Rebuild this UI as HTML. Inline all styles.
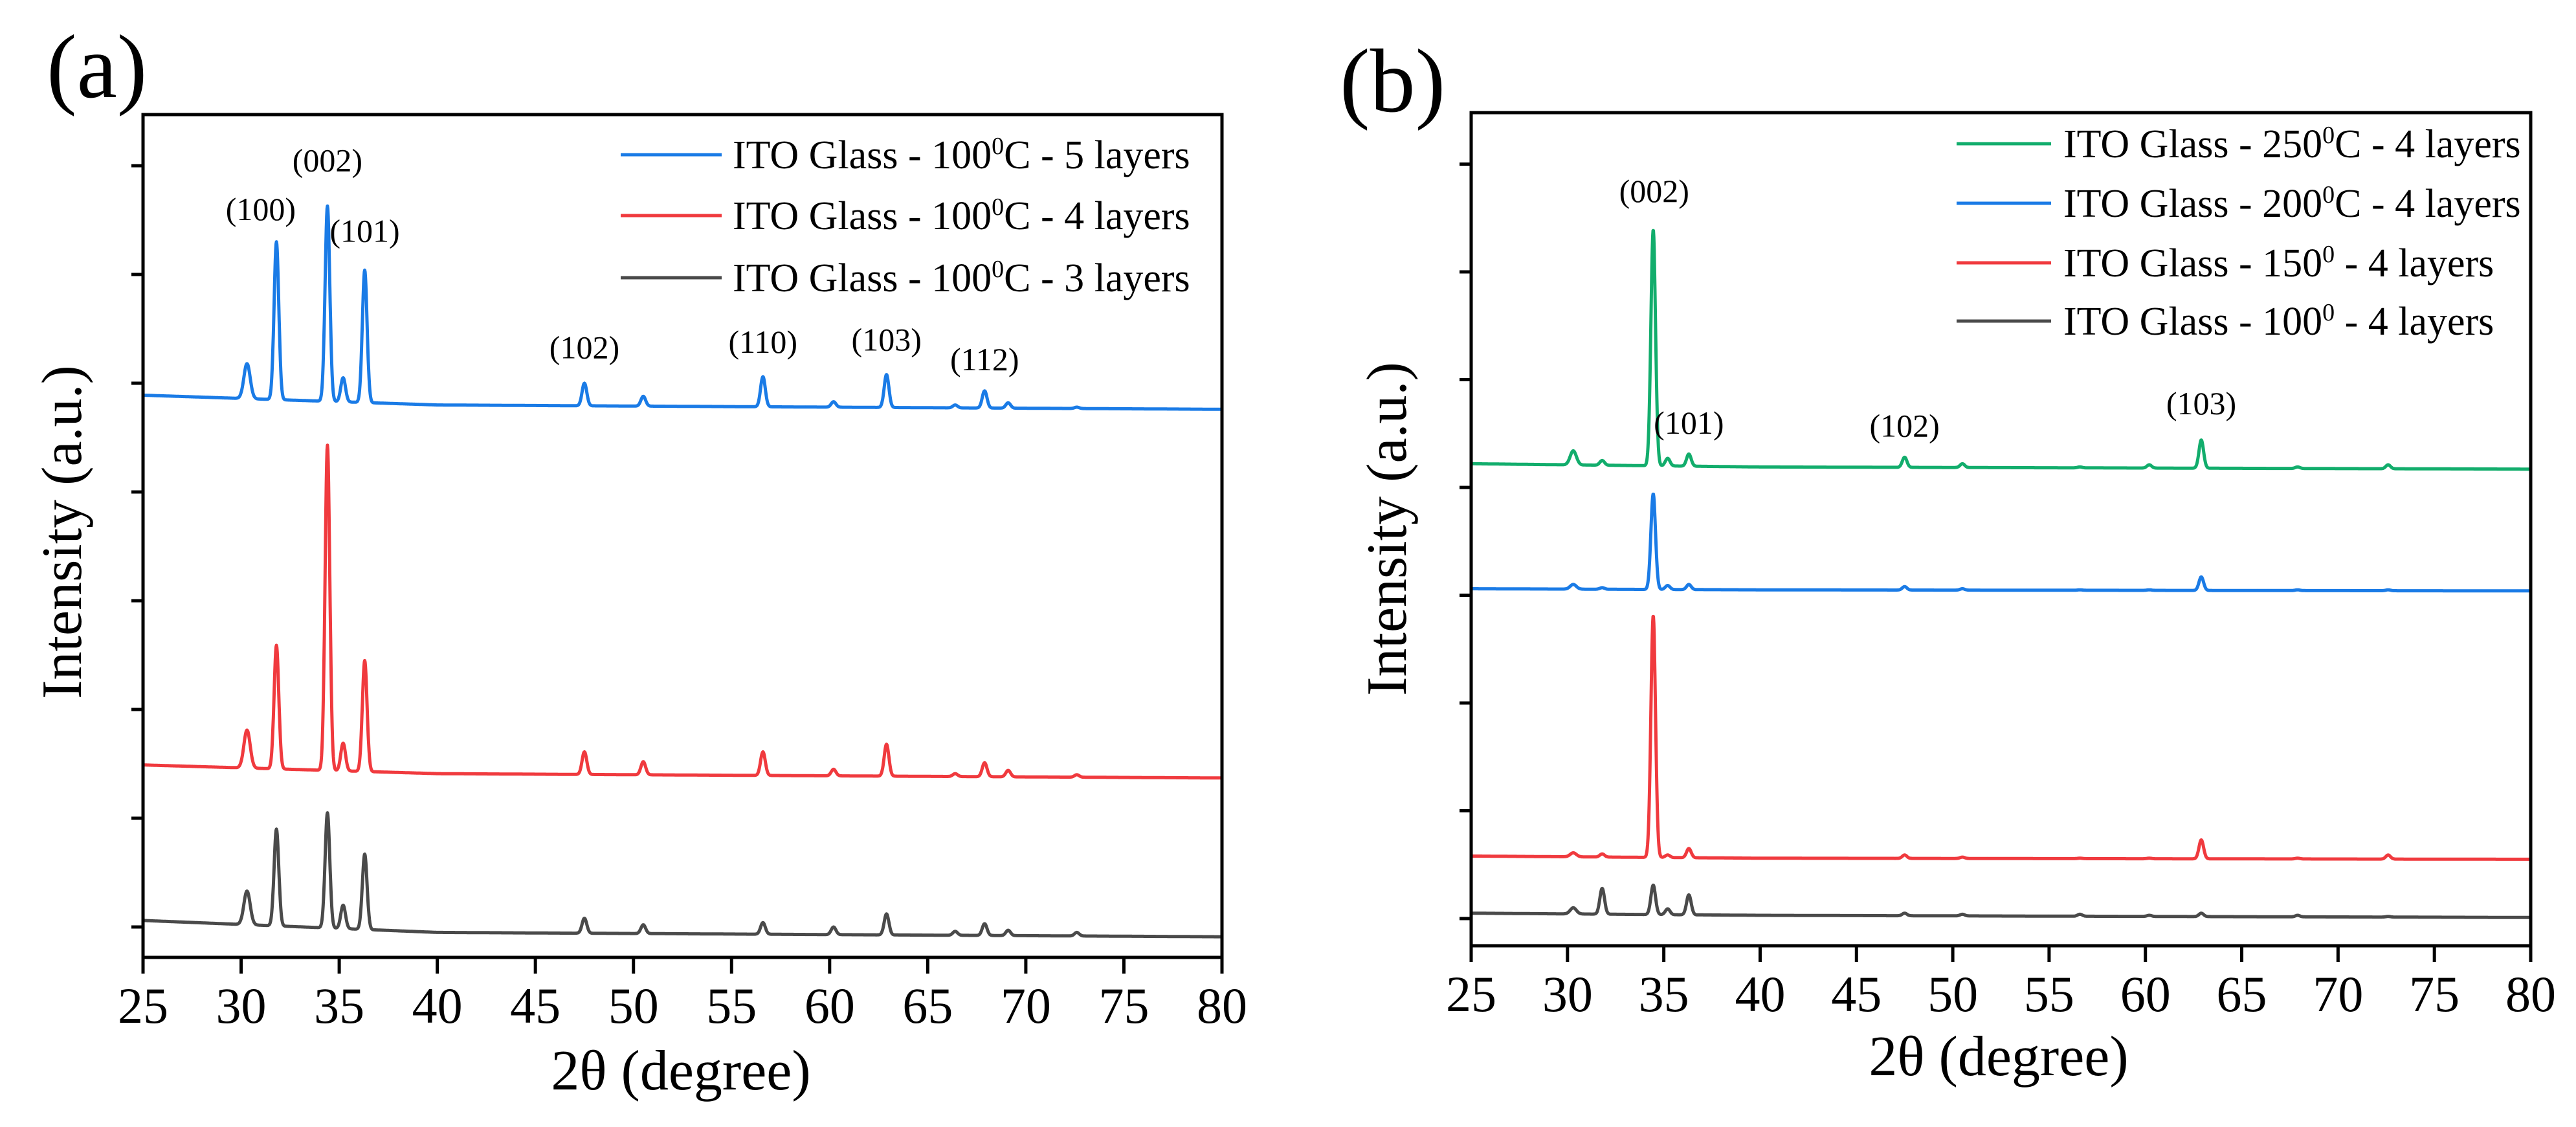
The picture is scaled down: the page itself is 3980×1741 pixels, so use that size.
<!DOCTYPE html>
<html><head><meta charset="utf-8"><style>
html,body{margin:0;padding:0;background:#fff;}
svg{display:block;}
svg text{font-family:"Liberation Serif","DejaVu Serif",serif;}
</style></head><body>
<svg id="fig" width="3980" height="1741" viewBox="0 0 3980 1741" font-family="Liberation Serif, serif"></svg>
<script>
// ---- Panel (a) data ----
const peakPosA = [30.3, 31.8, 34.4, 35.2, 36.3, 47.5, 50.5, 56.6, 60.2, 62.9, 66.4, 67.9, 69.1, 72.6];
const blueBaseA = [4.89, 4.80, 4.76];      // baseline at 25, 40, 80
const blueHeightsA = [5.18, 6.30, 6.63, 5.05, 6.04, 5.00, 4.88, 5.06, 4.83, 5.08, 4.80, 4.93, 4.82, 4.78];
const redBaseA = [1.49, 1.41, 1.37];
const redHeightsA = [1.81, 2.59, 4.43, 1.69, 2.45, 1.61, 1.52, 1.61, 1.45, 1.68, 1.41, 1.51, 1.44, 1.40];
const grayBaseA = [0.06, -0.05, -0.09];
const grayHeightsA = [0.33, 0.90, 1.05, 0.20, 0.67, 0.08, 0.02, 0.04, 0.00, 0.12, -0.04, 0.03, -0.03, -0.05];
const seriesNamesA = [["ITO Glass - 100", "C - 5 layers"], ["ITO Glass - 100", "C - 4 layers"], ["ITO Glass - 100", "C - 3 layers"]];
const hklA = ["(100)", "(002)", "(101)", "(102)", "(110)", "(103)", "(112)"];
const hklPosA = [31.0, 34.4, 36.3, 47.5, 56.6, 62.9, 67.9];
const hklYA = [6.5, 6.95, 6.3, 5.23, 5.28, 5.3, 5.12];

// ---- Panel (b) data ----
const peakPosB = [30.3, 31.8, 34.45, 35.2, 36.3, 47.5, 50.5, 56.6, 60.2, 62.9, 67.9, 72.6];
const greenBaseB = [4.22, 4.19, 4.17];
const greenHeightsB = [4.34, 4.25, 6.39, 4.27, 4.31, 4.28, 4.22, 4.19, 4.21, 4.44, 4.19, 4.21];
const blueBaseB = [3.06, 3.05, 3.04];
const blueHeightsB = [3.10, 3.07, 3.94, 3.09, 3.10, 3.08, 3.06, 3.05, 3.05, 3.17, 3.05, 3.05];
const redBaseB = [0.58, 0.56, 0.55];
const redHeightsB = [0.61, 0.60, 2.81, 0.59, 0.65, 0.59, 0.57, 0.56, 0.56, 0.73, 0.56, 0.59];
const grayBaseB = [0.05, 0.03, 0.01];
const grayHeightsB = [0.10, 0.28, 0.31, 0.09, 0.22, 0.05, 0.04, 0.04, 0.03, 0.05, 0.03, 0.02];
const seriesNamesB = [["ITO Glass - 250", "C - 4 layers"], ["ITO Glass - 200", "C - 4 layers"], ["ITO Glass - 150", " - 4 layers"], ["ITO Glass - 100", " - 4 layers"]];
const hklB = ["(002)", "(101)", "(102)", "(103)"];
const hklPosB = [34.5, 36.3, 47.5, 62.9];
const hklYB = [6.65, 4.5, 4.47, 4.68];
const xTicks = [25, 30, 35, 40, 45, 50, 55, 60, 65, 70, 75, 80];

const NS = "http://www.w3.org/2000/svg";
const svg = document.getElementById('fig');
const FF = '"Liberation Serif", serif';
function mk(tag, attrs, parent) {
  const e = document.createElementNS(NS, tag);
  for (const k in attrs) e.setAttribute(k, attrs[k]);
  if (tag === 'text') e.setAttribute('font-family', FF);
  (parent || svg).appendChild(e);
  return e;
}

function spectrum(x, pos, heights, base) {
  const b = x <= 40 ? base[0] + (base[1] - base[0]) * (x - 25) / 15 : base[1] + (base[2] - base[1]) * (x - 40) / 40;
  let y = b;
  for (let i = 0; i < pos.length; i++) {
    const amp = heights[i] - b;
    const w = pos[i] === 30.3 ? 0.16 : 0.12;
    y += amp * Math.exp(-0.5 * Math.pow((x - pos[i]) / w, 2));
  }
  return y;
}

function panel(cfg) {
  const g = mk('g', {});
  
  
  const X = v => cfg.left + (v - 25) / 55 * (cfg.right - cfg.left);
  const Y = u => cfg.y0 - u * cfg.unit;
  cfg.series.forEach((s) => {
    let d = '';
    for (let x = 25; x <= 80.0001; x += 0.02) {
      d += (d ? 'L' : 'M') + X(x).toFixed(1) + ' ' + Y(spectrum(x, cfg.pos, s.h, s.b)).toFixed(1);
    }
    const p = mk('path', {d: d, fill: 'none', stroke: s.c, 'stroke-width': 5, 'stroke-linejoin': 'round'}, g);
    
    
  });
  const fr = mk('rect', {x: cfg.left, y: cfg.top, width: cfg.right - cfg.left, height: cfg.bottom - cfg.top, fill: 'none', stroke: '#000', 'stroke-width': 5}, g);
  
  
  for (let i = 0; i < 8; i++) {
    const t = mk('line', {x1: cfg.left - 18, x2: cfg.left, y1: Y(i), y2: Y(i), stroke: '#000', 'stroke-width': 5}, g);
    
    
  }
  xTicks.forEach(v => {
    const t = mk('line', {x1: X(v), x2: X(v), y1: cfg.bottom, y2: cfg.bottom + 25, stroke: '#000', 'stroke-width': 5}, g);
    
    
    const l = mk('text', {x: X(v), y: cfg.tickY, 'font-size': 78, 'text-anchor': 'middle'}, g);
    l.textContent = v;
    
    
  });
  const xt = mk('text', {x: cfg.xtX, y: cfg.xtY, 'font-size': 88, 'text-anchor': 'middle'}, g);
  xt.textContent = '2θ (degree)';
  
  
  const yt = mk('text', {x: 0, y: 0, 'font-size': 88, 'text-anchor': 'middle', transform: `translate(${cfg.ytX},${cfg.ytY}) rotate(-90)`}, g);
  yt.textContent = 'Intensity (a.u.)';
  
  
  const pl = mk('text', {x: cfg.plX, y: cfg.plY, 'font-size': 140}, g);
  pl.textContent = cfg.label;
  
  
  cfg.hkl.forEach((h, i) => {
    const t = mk('text', {x: X(cfg.hklPos[i]), y: Y(cfg.hklY[i]), 'font-size': 50, 'text-anchor': 'middle'}, g);
    t.textContent = h;
    
    
  });
  cfg.series.forEach((s, i) => {
    const yy = cfg.legY[i];
    const ln = mk('line', {x1: cfg.legX1, x2: cfg.legX2, y1: yy, y2: yy, stroke: s.c, 'stroke-width': 5}, g);
    
    
    const tx = mk('text', {x: cfg.legTX, y: yy + 21, 'font-size': 62}, g);
    
    
    const t1 = mk('tspan', {}, tx); t1.textContent = cfg.names[i][0];
    const t2 = mk('tspan', {dy: -22, 'font-size': 38}, tx); t2.textContent = '0';
    const t3 = mk('tspan', {dy: 22}, tx); t3.textContent = cfg.names[i][1];
  });
}

panel({name: 'panel-a', left: 221, right: 1888, top: 177, bottom: 1479, y0: 1432, unit: 168,
  pos: peakPosA, tickY: 1580, xtX: 1052, xtY: 1683, ytX: 125, ytY: 822, plX: 72, plY: 150, label: '(a)',
  hkl: hklA, hklPos: hklPosA, hklY: hklYA,
  legX1: 959, legX2: 1115, legTX: 1132, legY: [239, 333, 429], names: seriesNamesA,
  series: [
    {id: 'series-5-layers', c: '#1a7be6', h: blueHeightsA, b: blueBaseA},
    {id: 'series-4-layers', c: '#f03a3e', h: redHeightsA, b: redBaseA},
    {id: 'series-3-layers', c: '#4a4a4a', h: grayHeightsA, b: grayBaseA}
  ]});

panel({name: 'panel-b', left: 2273, right: 3910, top: 174, bottom: 1461, y0: 1419, unit: 166.5,
  pos: peakPosB, tickY: 1562, xtX: 3088, xtY: 1661, ytX: 2172, ytY: 817, plX: 2070, plY: 172, label: '(b)',
  hkl: hklB, hklPos: hklPosB, hklY: hklYB,
  legX1: 3023, legX2: 3169, legTX: 3188, legY: [222, 314, 406, 496], names: seriesNamesB,
  series: [
    {id: 'series-250c', c: '#12ad6c', h: greenHeightsB, b: greenBaseB},
    {id: 'series-200c', c: '#1a7be6', h: blueHeightsB, b: blueBaseB},
    {id: 'series-150c', c: '#f03a3e', h: redHeightsB, b: redBaseB},
    {id: 'series-100c', c: '#4a4a4a', h: grayHeightsB, b: grayBaseB}
  ]});
</script>
</body></html>
